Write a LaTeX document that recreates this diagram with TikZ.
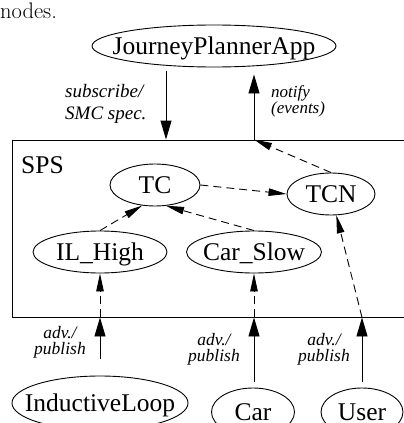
\documentclass[tikz,border=0pt]{standalone}
\usepackage{fontspec}
\newfontfamily\timesf{Liberation Serif}
\usetikzlibrary{shapes.geometric,arrows.meta,calc}

\tikzset{
  oval/.style={ellipse, draw, line width=0.9pt, inner sep=0pt, minimum height=42pt,
    font=\timesf\fontsize{25.5}{30}\selectfont},
  pub/.style={line width=0.9pt, -{Triangle[length=19pt,width=11pt]}},
  evt/.style={line width=0.9pt, dash pattern=on 8pt off 5pt, -{Triangle[length=18pt,width=7.5pt]}},
  lbl/.style={inner sep=0pt, font=\timesf\itshape\fontsize{17.5}{16}\selectfont},
}
\newcommand{\ovl}[1]{\makebox[0pt]{\raisebox{-0.34em}[0pt][0pt]{#1}}}

\begin{document}
\begin{tikzpicture}[x=1pt,y=-1pt]
\useasboundingbox (0,0) rectangle (404,423);
\clip (0,0) rectangle (404,423);

\node[anchor=base west, inner sep=0pt, font=\fontsize{22.5}{27}\selectfont] (capt) at (0,18) {nodes.};

% application
\node[oval, minimum width=244pt] (app) at (214,46) {\ovl{JourneyPlannerApp}};

% SPS
\node[draw, line width=0.9pt, inner sep=0pt, minimum width=408pt, minimum height=177pt] (sps) at (216,228.5) {};
\node[anchor=base west, inner sep=0pt, font=\timesf\fontsize{25.5}{30}\selectfont] (spsname) at (21,173) {SPS};

\node[oval, minimum width=90pt]  (tc)      at (155,185) {\ovl{TC}};
\node[oval, minimum width=88pt]  (tcn)     at (331,194) {\ovl{TCN}};
\node[oval, minimum width=134pt] (ilhigh)  at (100,252) {\ovl{IL\_High}};
\node[oval, minimum width=135pt] (carslow) at (254,252) {\ovl{Car\_Slow}};

% sources
\node[oval, minimum width=176pt, minimum height=54pt] (loop) at (100,403) {\ovl{InductiveLoop}};
\node[oval, minimum width=83pt,  minimum height=48pt] (car)  at (253,412) {\ovl{Car}};
\node[oval, minimum width=82pt,  minimum height=48pt] (user) at (362,412) {\ovl{User}};

\coordinate (subin) at ([xshift=-48pt]app.south |- sps.north);
\coordinate (notin) at ([xshift=40pt]app.south |- sps.north);

% app <-> SPS
\draw[pub, shorten <=4pt] (subin |- app.south) -- (subin);
\draw[pub, shorten >=7pt] (notin) -- (notin |- app.south);
\node[lbl, anchor=north west, align=left, font=\timesf\itshape\fontsize{19}{22}\selectfont] (sublbl) at (65,84) {subscribe/\\SMC spec.};
\node[lbl, anchor=north west, align=left, font=\timesf\itshape\fontsize{17}{13}\selectfont] (notlbl) at (271,85) {notify\\(events)};

% publishers
\draw[pub, shorten <=17pt] (loop) -- (loop |- sps.south);
\draw[pub, shorten <=6pt] (car.north -| carslow) -- (carslow |- sps.south);
\draw[pub, shorten <=6pt] (user) -- (user |- sps.south);
\node[lbl, anchor=north, align=center] (advA) at (60,326) {adv./\\publish};
\node[lbl, anchor=north, align=center] (advB) at (214,333) {adv./\\publish};
\node[lbl, anchor=north, align=center] (advC) at (324,333) {adv./\\publish};

% inside SPS
\draw[evt] (loop |- sps.south) -- (ilhigh);
\draw[evt] (carslow |- sps.south) -- (carslow);
\draw[evt] (user |- sps.south) -- (tcn);
\draw[evt] (ilhigh.north) -- (tc.238);
\draw[evt] (carslow.north) -- (tc.298);
\draw[evt] (tc.east) -- (tcn.west);
\draw[evt] (tcn.north) -- (notin);

\end{tikzpicture}
\end{document}
